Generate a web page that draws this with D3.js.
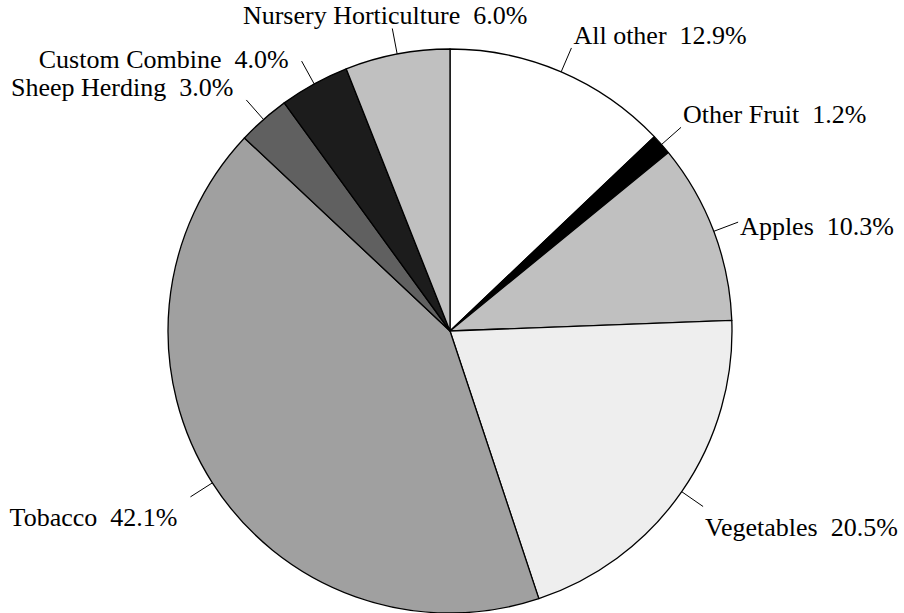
<!DOCTYPE html>
<html lang="en">
<head>
<meta charset="utf-8">
<title>Pie chart</title>
<script src="https://cdn.jsdelivr.net/npm/d3@7"></script>
<style>
  body { margin: 0; background: #fff; }
  text { font-family: "Liberation Serif", "Times New Roman", serif; font-size: 26px; fill: #000; white-space: pre; }
</style>
</head>
<body>
<script>
// data, clockwise from 12 o'clock
var categories = ["All other", "Other Fruit", "Apples", "Vegetables", "Tobacco",
                  "Sheep Herding", "Custom Combine", "Nursery Horticulture"];
var shares = [12.9, 1.2, 10.3, 20.5, 42.1, 3.0, 4.0, 6.0];
var fills = ["#ffffff", "#000000", "#c0c0c0", "#eeeeee", "#a0a0a0",
             "#606060", "#1c1c1c", "#c0c0c0"];

var w = 904, h = 613;
var cx = 450, cy = 331, r = 282;
var leaderLen = 26;
// extra vertical nudge for labels that the original layout pushed apart
var labelNudge = { "Custom Combine": 11 };

var svg = d3.select("body").append("svg")
    .attr("width", w)
    .attr("height", h);

var g = svg.append("g").attr("transform", "translate(" + cx + "," + cy + ")");

var pie = d3.pie().sort(null).value(function(d) { return d; });
var arcs = pie(shares);

var arc = d3.arc().innerRadius(0).outerRadius(r);

g.selectAll("path.slice")
  .data(arcs)
  .enter()
  .append("path")
  .attr("class", "slice")
  .attr("d", arc)
  .attr("fill", function(d, i) { return fills[i]; })
  .attr("stroke", "#000")
  .attr("stroke-width", 1.3)
  .attr("stroke-linejoin", "round");

function mid(d) { return (d.startAngle + d.endAngle) / 2; }

// leader lines
g.selectAll("line.leader")
  .data(arcs)
  .enter()
  .append("line")
  .attr("class", "leader")
  .attr("x1", function(d) { return Math.sin(mid(d)) * r; })
  .attr("y1", function(d) { return -Math.cos(mid(d)) * r; })
  .attr("x2", function(d) { return Math.sin(mid(d)) * (r + leaderLen); })
  .attr("y2", function(d) { return -Math.cos(mid(d)) * (r + leaderLen); })
  .attr("stroke", "#000")
  .attr("stroke-width", 1);

// labels
var labels = g.selectAll("text.label")
  .data(arcs)
  .enter()
  .append("text")
  .attr("class", "label")
  .text(function(d, i) { return categories[i] + "  " + shares[i].toFixed(1) + "%"; });

labels.each(function(d, i) {
  var a = mid(d), s = Math.sin(a), c = Math.cos(a);
  var ex = s * (r + leaderLen), ey = -c * (r + leaderLen);
  var tw = this.getComputedTextLength();
  var x;
  if (s > 0.25) x = ex + 2;                 // right side: start after leader
  else if (s < -0.25) x = ex - 13 - tw;     // left side: end before leader
  else x = ex - 0.525 * tw;                 // near the top: straddle leader
  var dy = c > 0.5 ? -4 : (c > 0 ? 13 : 29);
  dy += labelNudge[categories[i]] || 0;
  d3.select(this).attr("x", x).attr("y", ey + dy);
});
</script>
</body>
</html>
